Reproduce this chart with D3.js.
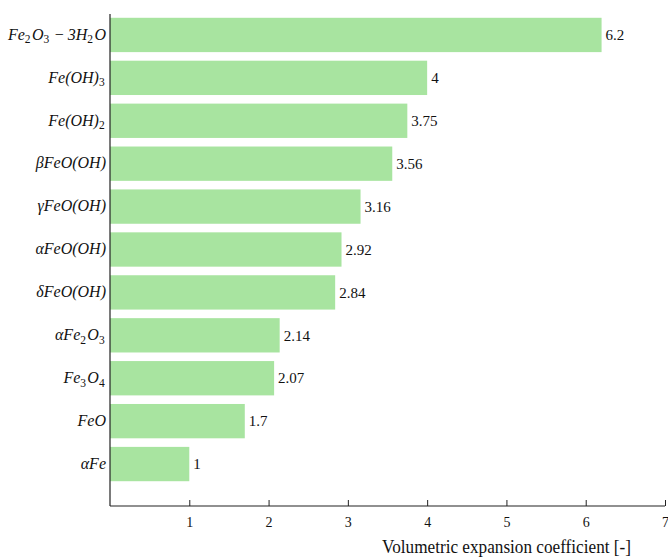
<!DOCTYPE html>
<html>
<head>
<meta charset="utf-8">
<script src="https://cdn.jsdelivr.net/npm/d3@7"></script>
<style>
  body { margin: 0; background: #fff; }
  svg { display: block; }
</style>
</head>
<body>
<svg id="chart" width="668" height="557"></svg>
<script>
// Compound labels, top to bottom; "_n" marks a subscript digit
const compounds = [
  "Fe_2O_3 \u2212 3H_2O",
  "Fe(OH)_3",
  "Fe(OH)_2",
  "\u03B2FeO(OH)",
  "\u03B3FeO(OH)",
  "\u03B1FeO(OH)",
  "\u03B4FeO(OH)",
  "\u03B1Fe_2O_3",
  "Fe_3O_4",
  "FeO",
  "\u03B1Fe"
];
const coefficients = [6.2, 4, 3.75, 3.56, 3.16, 2.92, 2.84, 2.14, 2.07, 1.7, 1];
const xTicks = [1, 2, 3, 4, 5, 6, 7];
const xTitle = "Volumetric expansion coefficient [-]";

const svg = d3.select("#chart");
const left = 110, right = 665, axisY = 506;
const serif = "'Liberation Serif', 'DejaVu Serif', serif";

const x = d3.scaleLinear().domain([0, 7]).range([left, right]);
const y = d3.scaleBand().domain(compounds).range([13.5, 485.5])
  .paddingInner(0.2).paddingOuter(0.1);

// Bars
svg.append("g").selectAll("rect")
  .data(compounds)
  .join("rect")
  .attr("x", x(0))
  .attr("y", d => y(d))
  .attr("width", (d, i) => x(coefficients[i]) - x(0))
  .attr("height", y.bandwidth())
  .attr("fill", "#a8e4a0");

// Value labels at bar ends
svg.append("g").selectAll("text")
  .data(compounds)
  .join("text")
  .attr("x", (d, i) => x(coefficients[i]) + 4)
  .attr("y", d => y(d) + y.bandwidth() / 2)
  .attr("dy", "0.35em")
  .attr("font-family", serif)
  .attr("font-size", 15)
  .attr("fill", "#111")
  .text((d, i) => coefficients[i]);

// Category labels with subscripts
const labels = svg.append("g").selectAll("text")
  .data(compounds)
  .join("text")
  .attr("x", left - 4)
  .attr("y", d => y(d) + y.bandwidth() / 2)
  .attr("dy", "0.3em")
  .attr("text-anchor", "end")
  .attr("font-family", serif)
  .attr("font-style", "italic")
  .attr("font-size", 16)
  .attr("fill", "#111");

labels.each(function(d) {
  const t = d3.select(this);
  const parts = d.split(/(_\d)/).filter(s => s.length);
  parts.forEach(p => {
    if (p[0] === "_") {
      t.append("tspan").attr("font-style", "normal").attr("font-size", 11.5)
        .attr("dy", 3.5).text(p.slice(1));
      t.append("tspan").attr("dy", -3.5).text("\u200A");
    } else {
      const q = p.replace(" \u2212 ", "\u2009\u2212\u2009");
      t.append("tspan").text(q);
    }
  });
});

// X axis with inward ticks
const xAxis = svg.append("g")
  .attr("transform", `translate(0,${axisY})`)
  .call(d3.axisBottom(x).tickValues(xTicks).tickSize(-6).tickPadding(11).tickFormat(d3.format("d")));
xAxis.select(".domain").attr("d", `M${left},0H${right}`).attr("stroke", "#222").attr("stroke-width", 1.2);
xAxis.selectAll(".tick line").attr("stroke", "#222").attr("stroke-width", 1);
xAxis.selectAll(".tick text").attr("font-family", serif).attr("font-size", 14).attr("fill", "#111");

// Left spine
svg.append("line")
  .attr("x1", left).attr("x2", left)
  .attr("y1", 14).attr("y2", axisY)
  .attr("stroke", "#222").attr("stroke-width", 1.2);

// Axis title
svg.append("text")
  .attr("x", 382)
  .attr("y", 553)
  .attr("font-family", serif)
  .attr("font-size", 18)
  .attr("textLength", 249)
  .attr("lengthAdjust", "spacingAndGlyphs")
  .attr("fill", "#111")
  .text(xTitle);
</script>
</body>
</html>
